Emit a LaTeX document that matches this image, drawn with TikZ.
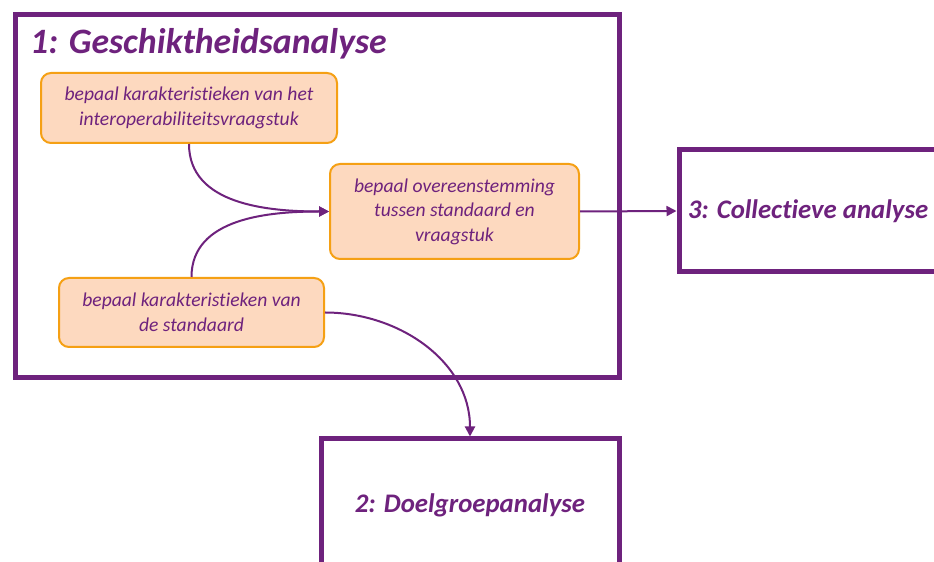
\documentclass[tikz,border=0pt]{standalone}
\usepackage{fontspec}
\setmainfont{Carlito}[Ligatures=NoCommon]
\usetikzlibrary{arrows.meta}
\definecolor{purp}{RGB}{110,34,125}
\definecolor{peach}{RGB}{253,217,191}
\definecolor{orng}{RGB}{245,160,20}
\begin{document}
\begin{tikzpicture}[x=1pt,y=1pt,
  bigbox/.style={draw=purp,line width=5pt,fill=white,inner sep=0pt,text=purp,font=\fontsize{26.8}{30}\selectfont\bfseries\itshape},
  stepbox/.style={draw=orng,line width=2pt,fill=peach,rounded corners=10pt,inner sep=0pt,align=center,text=purp,font=\fontsize{19.6}{24.5}\selectfont\itshape},
  conn/.style={draw=purp,line width=2pt,-{Triangle[length=10pt,width=10pt]}}]
\useasboundingbox (0,0) rectangle (934,562);
\clip (0,0) rectangle (934,562);
\fill[white] (0,0) rectangle (934,562);
% big boxes
\node[bigbox,minimum width=604pt,minimum height=363pt] (g1) at (317,365.5) {};
\node[bigbox,minimum width=258pt,minimum height=122pt] (g3) at (808,351) {3: Collectieve analyse};
\node[bigbox,minimum width=298pt,minimum height=132pt] (g2) at (470,57) {2: Doelgroepanalyse};
\node[anchor=base west,inner sep=0pt,text=purp,font=\fontsize{35.7}{40}\selectfont\bfseries\itshape] (t1) at (30,508) {1: Geschiktheidsanalyse};
% step boxes
\node[stepbox,minimum width=296pt,minimum height=70pt] (a) at (189,454) {bepaal karakteristieken van het\\interoperabiliteitsvraagstuk};
\node[stepbox,minimum width=249pt,minimum height=95pt] (b) at (454.5,350.5) {bepaal overeenstemming\\tussen standaard en\\vraagstuk};
\node[stepbox,minimum width=265pt,minimum height=69pt] (c) at (191.5,249.5) {bepaal karakteristieken van\\de standaard};
% connectors
\draw[conn] (a.south) to[out=-90,in=180] (b.west);
\draw[conn] (c.north) to[out=90,in=180] (b.west);
\draw[conn] (b.east) -- (g3.west);
\draw[conn] (c.east) to[out=0,in=90] (g2.north);
\end{tikzpicture}
\end{document}
